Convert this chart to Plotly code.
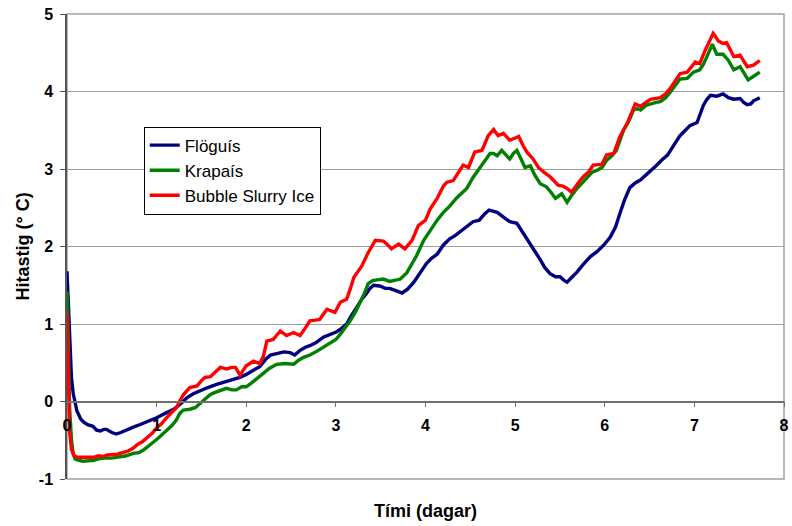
import plotly.graph_objects as go

flog_days = [0.00,0.01,0.03,0.05,0.07,0.11,0.15,0.18,0.23,0.29,0.33,0.37,0.41,0.44,0.50,0.55,0.60,0.67,0.74,0.81,0.90,1.00,1.10,1.19,1.27,1.34,1.41,1.48,1.57,1.67,1.76,1.86,1.93,2.00,2.08,2.15,2.22,2.27,2.35,2.42,2.49,2.54,2.60,2.66,2.71,2.78,2.86,2.93,3.01,3.06,3.12,3.17,3.23,3.29,3.34,3.38,3.42,3.49,3.55,3.60,3.67,3.74,3.80,3.87,3.94,4.01,4.07,4.13,4.20,4.27,4.33,4.39,4.46,4.53,4.60,4.66,4.71,4.76,4.80,4.87,4.94,5.02,5.10,5.17,5.22,5.28,5.33,5.39,5.45,5.50,5.55,5.58,5.63,5.69,5.76,5.84,5.91,5.99,6.06,6.12,6.17,6.22,6.28,6.34,6.40,6.46,6.51,6.57,6.64,6.70,6.75,6.80,6.84,6.90,6.95,7.03,7.07,7.10,7.14,7.18,7.25,7.32,7.38,7.44,7.51,7.55,7.59,7.63,7.66,7.73]
flog_temp = [1.68,1.40,0.66,0.30,0.10,-0.12,-0.22,-0.26,-0.30,-0.32,-0.37,-0.38,-0.36,-0.36,-0.40,-0.42,-0.40,-0.36,-0.33,-0.30,-0.26,-0.21,-0.15,-0.10,-0.03,0.05,0.10,0.14,0.18,0.22,0.25,0.29,0.31,0.35,0.40,0.45,0.55,0.60,0.62,0.64,0.63,0.60,0.66,0.70,0.72,0.76,0.83,0.86,0.90,0.94,1.00,1.10,1.22,1.32,1.39,1.46,1.50,1.49,1.46,1.46,1.43,1.40,1.45,1.54,1.66,1.78,1.85,1.90,2.02,2.10,2.14,2.19,2.25,2.32,2.34,2.42,2.47,2.45,2.44,2.38,2.32,2.30,2.16,2.04,1.94,1.83,1.73,1.65,1.61,1.61,1.56,1.54,1.60,1.67,1.77,1.87,1.93,2.02,2.12,2.25,2.43,2.60,2.76,2.82,2.86,2.92,2.98,3.04,3.12,3.18,3.27,3.36,3.43,3.50,3.56,3.60,3.72,3.82,3.90,3.95,3.94,3.97,3.92,3.90,3.91,3.86,3.83,3.84,3.88,3.92]

krap_days = [0.00,0.01,0.02,0.03,0.05,0.07,0.09,0.13,0.18,0.25,0.30,0.35,0.42,0.50,0.58,0.66,0.74,0.80,0.85,0.92,1.00,1.05,1.11,1.17,1.22,1.26,1.30,1.37,1.43,1.48,1.55,1.60,1.66,1.71,1.78,1.84,1.89,1.95,2.00,2.06,2.12,2.19,2.26,2.34,2.43,2.53,2.58,2.64,2.71,2.79,2.86,2.93,3.00,3.05,3.10,3.16,3.22,3.27,3.32,3.36,3.41,3.46,3.53,3.60,3.66,3.72,3.79,3.85,3.90,3.98,4.05,4.13,4.20,4.27,4.35,4.40,4.46,4.53,4.61,4.66,4.72,4.76,4.80,4.85,4.90,4.94,4.98,5.02,5.07,5.11,5.17,5.22,5.28,5.35,5.40,5.45,5.52,5.58,5.63,5.69,5.75,5.80,5.86,5.91,5.97,6.02,6.08,6.13,6.17,6.21,6.27,6.32,6.36,6.40,6.46,6.51,6.57,6.62,6.68,6.73,6.79,6.84,6.92,6.99,7.06,7.10,7.14,7.20,7.25,7.32,7.38,7.44,7.51,7.56,7.60,7.64,7.68,7.73]
krap_temp = [1.42,1.10,0.40,-0.10,-0.50,-0.68,-0.74,-0.76,-0.77,-0.76,-0.76,-0.74,-0.73,-0.73,-0.72,-0.70,-0.67,-0.66,-0.63,-0.57,-0.49,-0.44,-0.38,-0.31,-0.24,-0.15,-0.11,-0.10,-0.08,-0.03,0.03,0.09,0.12,0.14,0.17,0.15,0.15,0.19,0.19,0.24,0.30,0.37,0.43,0.48,0.49,0.48,0.53,0.57,0.60,0.65,0.70,0.74,0.80,0.87,0.95,1.04,1.16,1.27,1.40,1.52,1.56,1.57,1.58,1.55,1.56,1.58,1.66,1.78,1.88,2.08,2.20,2.34,2.44,2.52,2.63,2.69,2.75,2.89,3.02,3.10,3.20,3.20,3.17,3.24,3.18,3.13,3.20,3.24,3.12,3.02,3.04,2.92,2.81,2.77,2.70,2.62,2.68,2.57,2.66,2.75,2.82,2.88,2.96,2.98,3.02,3.11,3.17,3.24,3.36,3.50,3.62,3.76,3.78,3.76,3.82,3.84,3.86,3.87,3.92,3.99,4.08,4.16,4.17,4.25,4.28,4.35,4.45,4.61,4.48,4.48,4.40,4.28,4.32,4.22,4.15,4.18,4.21,4.25]

bubble_days = [0.00,0.01,0.02,0.03,0.05,0.08,0.12,0.20,0.30,0.35,0.40,0.45,0.50,0.56,0.62,0.68,0.74,0.78,0.84,0.89,0.95,1.00,1.06,1.11,1.16,1.22,1.26,1.30,1.37,1.45,1.50,1.54,1.60,1.66,1.71,1.78,1.84,1.88,1.93,2.00,2.08,2.15,2.19,2.23,2.30,2.38,2.45,2.53,2.60,2.66,2.71,2.77,2.82,2.90,2.99,3.05,3.12,3.16,3.20,3.29,3.36,3.44,3.53,3.58,3.62,3.70,3.77,3.85,3.92,4.00,4.05,4.13,4.20,4.24,4.31,4.37,4.42,4.48,4.55,4.63,4.70,4.76,4.81,4.87,4.94,5.00,5.04,5.09,5.13,5.20,5.26,5.32,5.39,5.48,5.53,5.58,5.63,5.71,5.76,5.82,5.87,5.97,6.02,6.10,6.17,6.25,6.34,6.40,6.46,6.51,6.62,6.68,6.73,6.79,6.84,6.92,7.01,7.06,7.12,7.21,7.27,7.32,7.36,7.44,7.51,7.59,7.66,7.73]
bubble_temp = [1.15,0.70,0.00,-0.40,-0.62,-0.70,-0.72,-0.72,-0.72,-0.70,-0.71,-0.69,-0.69,-0.68,-0.66,-0.64,-0.60,-0.56,-0.52,-0.47,-0.41,-0.34,-0.28,-0.21,-0.15,-0.08,0.01,0.09,0.18,0.20,0.27,0.31,0.32,0.38,0.44,0.42,0.44,0.44,0.34,0.46,0.52,0.49,0.58,0.78,0.80,0.91,0.85,0.89,0.85,0.95,1.04,1.05,1.06,1.19,1.15,1.28,1.32,1.45,1.60,1.75,1.92,2.08,2.07,2.02,1.97,2.03,1.97,2.08,2.27,2.34,2.48,2.62,2.78,2.83,2.85,2.96,3.05,3.02,3.22,3.24,3.43,3.51,3.43,3.46,3.37,3.40,3.42,3.30,3.22,3.13,3.02,2.96,2.90,2.79,2.78,2.75,2.70,2.83,2.90,2.96,3.05,3.06,3.18,3.20,3.42,3.59,3.84,3.81,3.86,3.90,3.92,3.97,4.04,4.14,4.23,4.25,4.38,4.36,4.53,4.75,4.65,4.62,4.63,4.45,4.47,4.32,4.34,4.40]

series_names = ["Flöguís", "Krapaís", "Bubble Slurry Ice"]
series_colors = ["#000080", "#008000", "#FF0000"]
x_ticks = [0, 1, 2, 3, 4, 5, 6, 7, 8]
y_ticks = [-1, 0, 1, 2, 3, 4, 5]
y_tick_text = ["-1", "0", "1", "2", "3", "4", "5"]

fig = go.Figure()
for name, color, xs, ys in zip(series_names, series_colors,
                               [flog_days, krap_days, bubble_days],
                               [flog_temp, krap_temp, bubble_temp]):
    fig.add_trace(go.Scatter(x=xs, y=ys, mode="lines", name=name,
                             line=dict(color=color, width=3.4)))

tickfont = dict(family="Liberation Sans", size=16, color="black", weight="bold")
fig.update_layout(
    width=792, height=526,
    margin=dict(l=67, r=8, t=14, b=47),
    paper_bgcolor="white", plot_bgcolor="white",
    showlegend=True,
    legend=dict(x=0.107, y=0.758, xanchor="left", yanchor="top",
                bgcolor="white", bordercolor="black", borderwidth=1,
                font=dict(family="Liberation Sans", size=17, color="black"),
                tracegroupgap=2),
    xaxis=dict(range=[0, 8], tickvals=x_ticks, ticktext=[str(t) for t in x_ticks],
               anchor="free", position=1/6, showgrid=False, zeroline=False,
               automargin=False,
               showline=True, linecolor="#707070", linewidth=1.5,
               ticks="outside", ticklen=5, tickcolor="#707070",
               ticklabelstandoff=5, tickfont=tickfont),
    yaxis=dict(range=[-1, 5], tickvals=y_ticks, ticktext=y_tick_text,
               showgrid=True, gridcolor="#A0A0A0", automargin=False,
               gridwidth=1, zeroline=False, showline=True, linecolor="#555555",
               linewidth=1.5, ticks="outside", ticklen=5, tickcolor="#555555",
               ticklabelstandoff=4, tickfont=tickfont),
    shapes=[dict(type="rect", xref="x domain", yref="y domain", x0=0, x1=1, y0=0, y1=1,
                 line=dict(color="#A0A0A0", width=1.5), layer="below")],
    annotations=[
        dict(text="Tími (dagar)", xref="paper", yref="paper", x=0.5, y=0.0, yshift=-32,
             showarrow=False, yanchor="middle",
             font=dict(family="Liberation Sans", size=18, color="black", weight="bold")),
        dict(text="Hitastig (° C)", xref="paper", yref="paper", x=0, xshift=-45, y=0.5,
             showarrow=False, textangle=-90, xanchor="center",
             font=dict(family="Liberation Sans", size=18, color="black", weight="bold")),
    ],
)

fig.write_html("out.html", config={"displayModeBar": False},
               post_script="document.body.style.margin='0px';document.body.style.overflow='hidden';")
